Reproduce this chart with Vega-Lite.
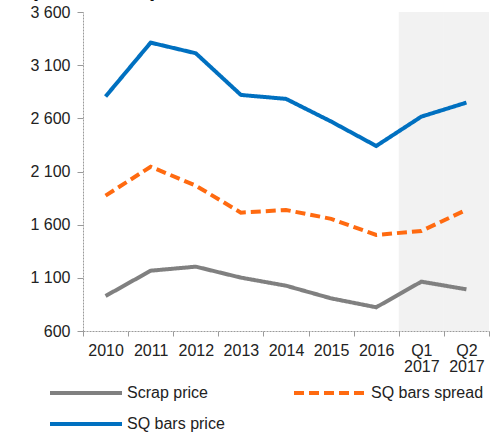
{
  "$schema": "https://vega.github.io/schema/vega-lite/v6.json",
  "width": 406,
  "height": 319,
  "autosize": {"type": "none"},
  "padding": {"left": 83, "top": 12, "right": 14, "bottom": 104},
  "background": "white",
  "config": {
    "view": {"stroke": null},
    "font": "Liberation Sans",
    "axis": {
      "labelFont": "Liberation Sans",
      "labelFontSize": 16,
      "labelColor": "#222222",
      "domainColor": "#9a9a9a",
      "domainDash": [2, 1],
      "domainWidth": 1,
      "tickColor": "#9a9a9a",
      "tickWidth": 1,
      "grid": false
    },
    "legend": {
      "labelFont": "Liberation Sans",
      "labelFontSize": 16,
      "labelColor": "#222222"
    }
  },
  "datasets": {
    "shade": [{"period": "Q1 2017"}, {"period": "Q2 2017"}],
    "prices": [
      {"period": "2010", "series": "SQ bars price", "value": 2805},
      {"period": "2011", "series": "SQ bars price", "value": 3312},
      {"period": "2012", "series": "SQ bars price", "value": 3212},
      {"period": "2013", "series": "SQ bars price", "value": 2820},
      {"period": "2014", "series": "SQ bars price", "value": 2783},
      {"period": "2015", "series": "SQ bars price", "value": 2570},
      {"period": "2016", "series": "SQ bars price", "value": 2340},
      {"period": "Q1 2017", "series": "SQ bars price", "value": 2616},
      {"period": "Q2 2017", "series": "SQ bars price", "value": 2748},
      {"period": "2010", "series": "SQ bars spread", "value": 1873},
      {"period": "2011", "series": "SQ bars spread", "value": 2145},
      {"period": "2012", "series": "SQ bars spread", "value": 1967},
      {"period": "2013", "series": "SQ bars spread", "value": 1713},
      {"period": "2014", "series": "SQ bars spread", "value": 1738},
      {"period": "2015", "series": "SQ bars spread", "value": 1655},
      {"period": "2016", "series": "SQ bars spread", "value": 1503},
      {"period": "Q1 2017", "series": "SQ bars spread", "value": 1541},
      {"period": "Q2 2017", "series": "SQ bars spread", "value": 1740},
      {"period": "2010", "series": "Scrap price", "value": 929},
      {"period": "2011", "series": "Scrap price", "value": 1167},
      {"period": "2012", "series": "Scrap price", "value": 1205},
      {"period": "2013", "series": "Scrap price", "value": 1102},
      {"period": "2014", "series": "Scrap price", "value": 1026},
      {"period": "2015", "series": "Scrap price", "value": 907},
      {"period": "2016", "series": "Scrap price", "value": 823},
      {"period": "Q1 2017", "series": "Scrap price", "value": 1064},
      {"period": "Q2 2017", "series": "Scrap price", "value": 992}
    ]
  },
  "encoding": {
    "x": {
      "field": "period",
      "type": "nominal",
      "sort": null,
      "scale": {
        "domain": ["2010", "2011", "2012", "2013", "2014", "2015", "2016", "Q1 2017", "Q2 2017"],
        "paddingInner": 0,
        "paddingOuter": 0
      },
      "axis": {
        "title": null,
        "labelAngle": 0,
        "labelExpr": "split(datum.label, ' ')",
        "labelLineHeight": 16,
        "tickBand": "extent",
        "tickSize": 5,
        "labelPadding": 6
      }
    }
  },
  "layer": [
    {
      "data": {"name": "shade"},
      "mark": {"type": "rect", "color": "#f2f2f2"}
    },
    {
      "data": {"name": "prices"},
      "mark": {"type": "line", "strokeWidth": 4, "strokeCap": "butt"},
      "encoding": {
        "y": {
          "field": "value",
          "type": "quantitative",
          "scale": {"domain": [600, 3600], "nice": false, "zero": false},
          "axis": {
            "values": [600, 1100, 1600, 2100, 2600, 3100, 3600],
            "labelExpr": "replace(format(datum.value, ','), ',', ' ')",
            "tickSize": 6,
            "labelPadding": 7,
            "title": "(USD/tonne)",
            "titleAngle": 0,
            "titleAlign": "left",
            "titleBaseline": "bottom",
            "titleX": -53,
            "titleY": -12,
            "titleFontSize": 22,
            "titleFontWeight": "bold",
            "titleColor": "#111111"
          }
        },
        "color": {
          "field": "series",
          "type": "nominal",
          "scale": {
            "domain": ["Scrap price", "SQ bars spread", "SQ bars price"],
            "range": ["#808080", "#ff6a10", "#0070c0"]
          },
          "legend": {
            "title": null,
            "orient": "none",
            "legendX": -35,
            "legendY": 370,
            "direction": "horizontal",
            "columns": 2,
            "symbolType": "M-1,0H7",
            "symbolSize": 324,
            "symbolStrokeWidth": 4,
            "labelOffset": 57,
            "columnPadding": 61,
            "rowPadding": 12,
            "padding": 0
          }
        },
        "strokeDash": {
          "field": "series",
          "type": "nominal",
          "scale": {
            "domain": ["Scrap price", "SQ bars spread", "SQ bars price"],
            "range": [[1, 0], [10, 5], [1, 0]]
          },
          "legend": {
            "title": null,
            "orient": "none",
            "legendX": -35,
            "legendY": 370,
            "direction": "horizontal",
            "columns": 2,
            "symbolType": "M-1,0H7",
            "symbolSize": 324,
            "symbolStrokeWidth": 4,
            "labelOffset": 57,
            "columnPadding": 61,
            "rowPadding": 12,
            "padding": 0
          }
        }
      }
    }
  ]
}
